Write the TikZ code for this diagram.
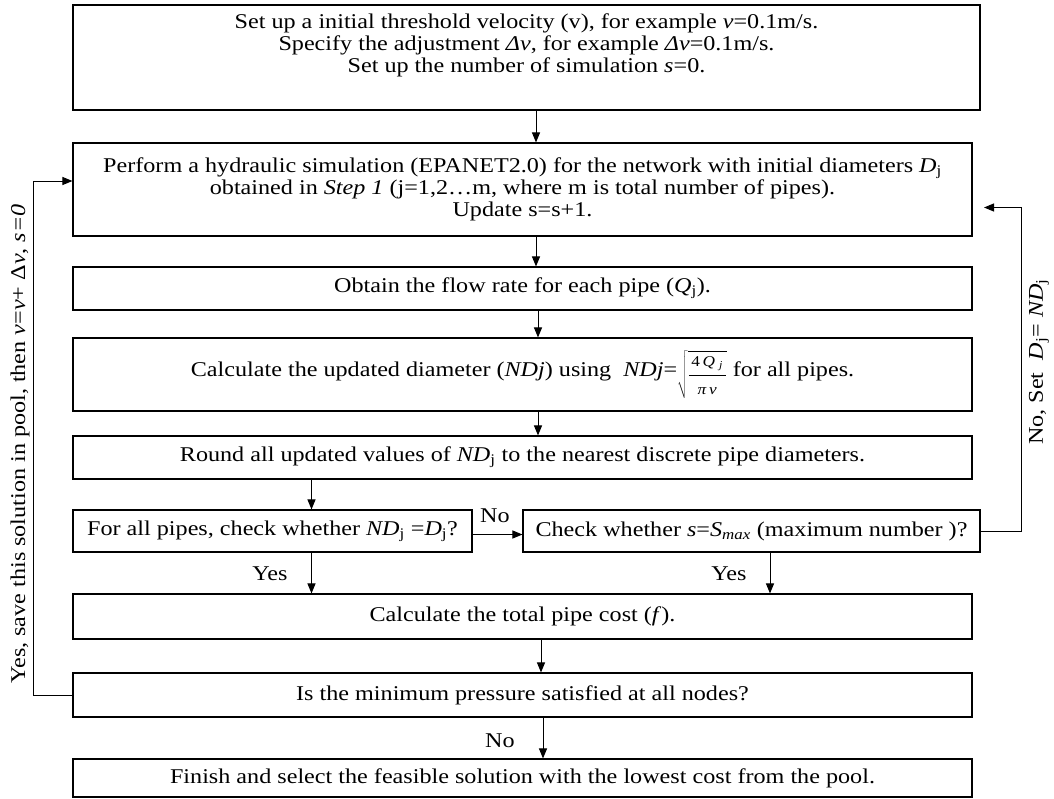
\documentclass[tikz,border=0pt]{standalone}
\usepackage{fontspec}
\setmainfont{Liberation Serif}[FakeStretch=1.15]
\usetikzlibrary{arrows.meta}
\newcommand{\smallfrac}{\fontsize{15}{15}\selectfont}
\begin{document}
\begin{tikzpicture}[x=1pt,y=-1pt,
  stepbox/.style={draw, line width=1.1pt, rectangle, inner sep=0pt, align=center,
    font=\fontsize{21}{22}\selectfont},
  steptext/.style={inner sep=0pt, align=center, font=\fontsize{21}{22}\selectfont},
  flow/.style={line width=1pt, -{Triangle[width=8pt,length=10pt]}},
  lbl/.style={font=\fontsize{21}{22}\selectfont, inner sep=0pt}]
\useasboundingbox (0,0) rectangle (1054,798);

% process steps
\node[stepbox, minimum width=907pt, minimum height=105pt] (init) at (526.5,57.5) {};
\node[steptext] (inittext) at (526.5,45)
  {Set up a initial threshold velocity (v), for example \textit{v}=0.1m/s.\\
   Specify the adjustment \textit{Δv}, for example \textit{Δv}=0.1m/s.\\
   Set up the number of simulation \textit{s}=0.};
\node[stepbox, minimum width=899pt, minimum height=93pt] (sim) at (522.5,189.5)
  {Perform a hydraulic simulation (EPANET2.0) for the network with initial diameters \textit{D}\textsubscript{j}\\
   obtained in \textit{Step 1} (j=1,2…m, where m is total number of pipes).\\
   Update s=s+1.};
\node[stepbox, minimum width=899pt, minimum height=43pt] (flowq) at (522.5,288.5)
  {Obtain the flow rate for each pipe (\textit{Q}\textsubscript{j}).};
\node[stepbox, minimum width=899pt, minimum height=73pt] (upd) at (522.5,374.5)
  {Calculate the updated diameter (\textit{NDj}) using \ \textit{NDj}=\raisebox{-4pt}{$\displaystyle\sqrt{\frac{\hbox{\smallfrac\rule[-5pt]{0pt}{16pt}\,4\,\textit{Q}\;\textsubscript{\textit{j}}\,}}{\hbox{\smallfrac\rule[-3pt]{0pt}{18pt}\textit{π}\,\textit{v}}}}$} for all pipes.};
\node[stepbox, minimum width=899pt, minimum height=43pt] (round) at (522.5,457.5)
  {Round all updated values of \textit{ND}\textsubscript{j} to the nearest discrete pipe diameters.};
\node[stepbox, minimum width=399pt, minimum height=42pt] (chkL) at (272.5,531)
  {For all pipes, check whether \textit{ND}\textsubscript{j} =\textit{D}\textsubscript{j}?};
\node[stepbox, minimum width=457pt, minimum height=42pt] (chkR) at (751.5,531)
  {Check whether \textit{s}=\textit{S}\textsubscript{\textit{max}} (maximum number )?};
\node[stepbox, minimum width=899pt, minimum height=45pt] (cost) at (522.5,616.5)
  {Calculate the total pipe cost (\textit{f}).};
\node[stepbox, minimum width=899pt, minimum height=44pt] (minp) at (522.5,695)
  {Is the minimum pressure satisfied at all nodes?};
\node[stepbox, minimum width=899pt, minimum height=38pt] (fin) at (522.5,778)
  {Finish and select the feasible solution with the lowest cost from the pool.};

% arrow columns
\coordinate (a1) at (536,0);
\coordinate (a2) at (538,0);
\coordinate (a3) at (311.5,0);
\coordinate (a4) at (770,0);
\coordinate (a5) at (541,0);
\coordinate (a6) at (543,0);
\coordinate (hchk) at (0,534.5);

\draw[flow] (init.south -| a1) -- (sim.north -| a1);
\draw[flow] (sim.south -| a1) -- (flowq.north -| a1);
\draw[flow] (flowq.south -| a2) -- (upd.north -| a2);
\draw[flow] (upd.south -| a2) -- (round.north -| a2);
\draw[flow] (round.south -| a3) -- (chkL.north -| a3);
\draw[flow] (chkL.east |- hchk) -- (chkR.west |- hchk);
\draw[flow] (chkL.south -| a3) -- (cost.north -| a3);
\draw[flow] (chkR.south -| a4) -- (cost.north -| a4);
\draw[flow] (cost.south -| a5) -- (minp.north -| a5);
\draw[flow] (minp.south -| a6) -- (fin.north -| a6);

% feedback loops
\coordinate (lx) at (33,181);
\draw[flow] (minp.west) -| (lx) -- (lx -| sim.west);
\coordinate (rx) at (1021,207.5);
\coordinate (rtip) at (984,207.5);
\draw[flow] (chkR.east) -| (rx) -- (rtip);

% connector labels
\node[lbl] (noA) at (495,516) {No};
\node[lbl] (yesL) at (270,574) {Yes};
\node[lbl] (yesR) at (729,574) {Yes};
\node[lbl] (noB) at (500,741) {No};
\node[lbl, rotate=90] (yesloop) at (20,444)
  {Yes, save this solution in pool, then \textit{v}=\textit{v}+ Δ\textit{v}, \textit{s=0}};
\node[lbl, rotate=90] (noloop) at (1039,362)
  {No,\ Set \ \textit{D}\textsubscript{j}=\ \textit{ND}\textsubscript{j}};
\end{tikzpicture}
\end{document}
